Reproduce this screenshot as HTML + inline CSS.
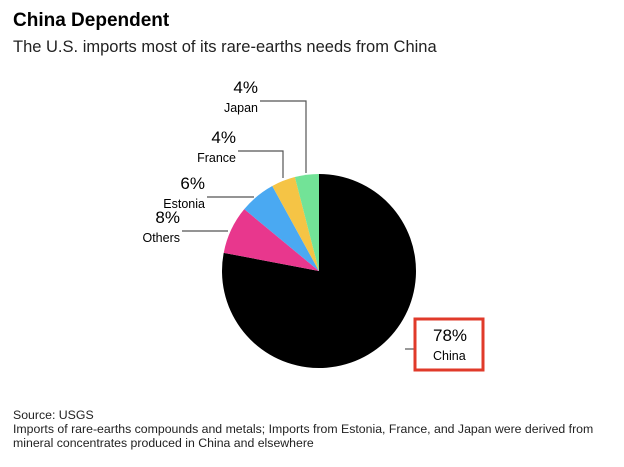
<!DOCTYPE html>
<html><head><meta charset="utf-8"><style>
body{margin:0;width:624px;height:462px;background:#fff;font-family:"Liberation Sans",sans-serif;overflow:hidden}
svg text{font-family:"Liberation Sans",sans-serif}
</style></head><body>
<svg width="624" height="462">
<text x="13" y="26" font-size="19" font-weight="bold" fill="#000">China Dependent</text>
<text x="13" y="52" font-size="16.5" fill="#222">The U.S. imports most of its rare-earths needs from China</text>
<g id="pie"></g>
<g id="labels"></g>
<rect x="415" y="319" width="68" height="51" fill="none" stroke="#e03a2a" stroke-width="3"/>
<text x="13" y="419" font-size="12.3" fill="#222">Source: USGS</text>
<text x="13" y="433" font-size="12.3" fill="#222">Imports of rare-earths compounds and metals; Imports from Estonia, France, and Japan were derived from</text>
<text x="13" y="447" font-size="12.3" fill="#222">mineral concentrates produced in China and elsewhere</text>
</svg>
<script>
const categories=["China","Others","Estonia","France","Japan"];
const values=[78,8,6,4,4];
const colors=["#000000","#e8378d","#4aa9f2","#f5c445","#72e397"];
const labelPos=[[433,347,"start",405,349,415,349,null],[180,229,"end",182,231,228,231,null],[205,195,"end",207,197,254,197,null],[236,149,"end",238,151,283,151,178],[258,99,"end",260,101,306,101,173]];
const cx=319,cy=271,r=97;
const ns="http://www.w3.org/2000/svg";
const pie=document.getElementById('pie'),lab=document.getElementById('labels');
const total=values.reduce((a,b)=>a+b,0);
let a0=0;
values.forEach((v,i)=>{
 const a1=a0+v/total*2*Math.PI;
 const p=(a)=>[cx+r*Math.sin(a),cy-r*Math.cos(a)];
 const [x0,y0]=p(a0),[x1,y1]=p(a1);
 const path=document.createElementNS(ns,'path');
 path.setAttribute('d',`M${cx},${cy}L${x0},${y0}A${r},${r} 0 ${a1-a0>Math.PI?1:0} 1 ${x1},${y1}Z`);
 path.setAttribute('fill',colors[i]);
 
 
 pie.appendChild(path);
 const L=labelPos[i];
 const t1=document.createElementNS(ns,'text');
 t1.setAttribute('x',L[0]);t1.setAttribute('y',L[1]-6);t1.setAttribute('text-anchor',L[2]);
 t1.setAttribute('font-size','17');t1.textContent=v+'%';
 
 
 lab.appendChild(t1);
 const t2=document.createElementNS(ns,'text');
 t2.setAttribute('x',L[0]);t2.setAttribute('y',L[1]+13);t2.setAttribute('text-anchor',L[2]);
 t2.setAttribute('font-size','12.5');t2.textContent=categories[i];
 
 
 lab.appendChild(t2);
 const ln=document.createElementNS(ns,'polyline');
 let pts=`${L[3]},${L[4]} ${L[5]},${L[6]}`;
 if(L[7]!==null)pts+=` ${L[5]},${L[7]}`;
 ln.setAttribute('points',pts);ln.setAttribute('fill','none');ln.setAttribute('stroke','#555');ln.setAttribute('stroke-width','1.2');
 
 
 lab.appendChild(ln);
 a0=a1;
});
</script>
</body></html>
